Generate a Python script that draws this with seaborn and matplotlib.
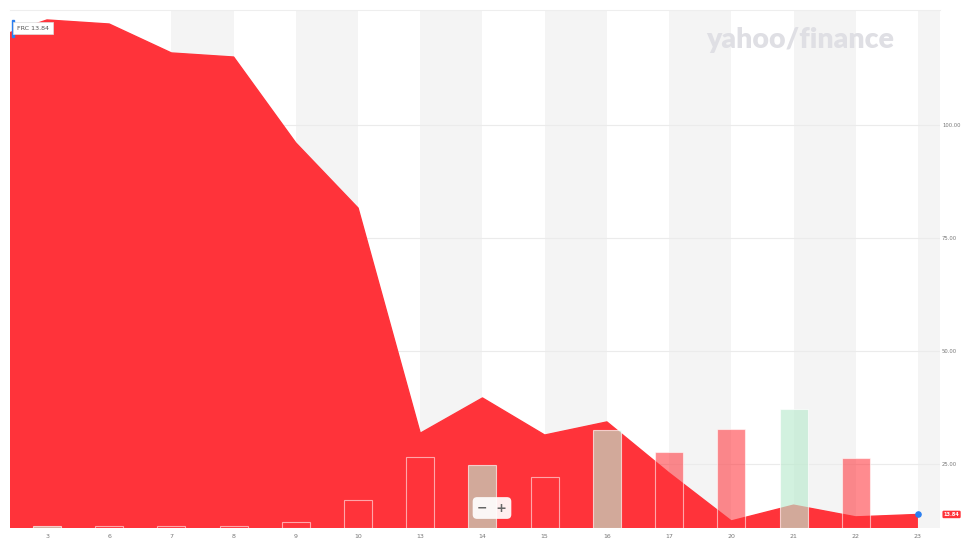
import matplotlib
matplotlib.use("Agg")
import matplotlib.pyplot as plt
from matplotlib.patches import Rectangle
import numpy as np
import pandas as pd
import seaborn as sns

# FRC daily closes, March 2023 (the first day sits just off the left edge)
days = ["2", "3", "6", "7", "8", "9", "10", "13", "14", "15", "16", "17", "20", "21", "22", "23"]
close = [118.5, 123.2, 122.3, 115.9, 115.0, 96.0, 81.6, 31.8, 39.6, 31.4, 34.3, 23.0, 12.4, 15.9, 13.3, 13.84]
volume_m = [np.nan, 3, 3, 3, 3, 9, 42, 106, 94, 76, 147, 114, 148, 178, 105, np.nan]
price_ticks = [25, 50, 75, 100]
ticker = "FRC"

RED = "#ff333a"
UP = "#bbeace"
BLUE = "#2b7ff0"

df = pd.DataFrame({"day": days, "close": close, "vol": volume_m})
df["pos"] = np.arange(len(df))
df["dir"] = np.where(df["close"].diff() >= 0, "up", "down")

sns.set_style("white")
plt.rcParams["font.family"] = ["DejaVu Sans"]

fig = plt.figure(figsize=(9.62, 5.44), dpi=100)
ax = fig.add_axes([0.0104, 0.0294, 0.9667, 0.9522])

# alternating day bands + price gridlines
for start in range(3, len(days), 2):
    ax.axvspan(start, start + 1, color="#f4f4f4", lw=0, zorder=0)
for t in price_ticks:
    ax.axhline(t, color="#ebebeb", lw=0.8, zorder=1)

# price area
sns.lineplot(data=df, x="pos", y="close", ax=ax, color=RED, lw=1, zorder=2)
ax.fill_between(df["pos"], df["close"], 0, color=RED, lw=0, zorder=2)
ax.scatter(df["pos"].iloc[-1], df["close"].iloc[-1], s=14, color=BLUE, zorder=6)

# volume bars on a hidden twin axis
ax2 = ax.twinx()
sns.barplot(
    data=df, x="day", y="vol", hue="dir", order=days, hue_order=["down", "up"],
    palette={"down": RED, "up": UP}, dodge=False, width=0.45, saturation=1,
    edgecolor="white", linewidth=0.8, errorbar=None, legend=False, ax=ax2,
)
for cont, a in zip(ax2.containers, [0.57, 0.65]):
    for p in cont:
        p.set_alpha(a)
ax2.set_ylim(0, 777)
ax2.set_yticks([])
ax2.set_ylabel("")
for s in ax2.spines.values():
    s.set_visible(False)

ax.set_xlim(0.405, 15.354)
ax.set_ylim(10.84, 125.4)
ax.set_xticks(df["pos"].iloc[1:], days[1:])
ax.yaxis.tick_right()
ax.set_yticks(price_ticks, [f"{t:.2f}" for t in price_ticks])
ax.tick_params(axis="both", length=0, labelcolor="#777")
ax.tick_params(axis="x", pad=4, labelsize=4.5)
ax.tick_params(axis="y", pad=1.5, labelsize=3.8)
ax.set_xlabel("")
ax.set_ylabel("")
for name, s in ax.spines.items():
    s.set_visible(name == "top")
ax.spines["top"].set_color("#eeeeee")
ax.spines["top"].set_linewidth(0.8)

# last price tag on the right
last = df["close"].iloc[-1]
ax.text(1.004, last, f"{last:.2f}", transform=ax.get_yaxis_transform(), ha="left", va="center",
        fontsize=3.6, color="white", fontweight="bold",
        bbox=dict(boxstyle="round,pad=0.25", fc=RED, ec="none"))

# ticker badge top-left
fig.text(17 / 962, 1 - 28 / 544, f"{ticker} {last:.2f}", ha="left", va="center", fontsize=4.6,
         color="#555", bbox=dict(boxstyle="square,pad=0.55", fc="white", ec="#dddddd", lw=0.5))
fig.patches.append(Rectangle((12 / 962, 1 - 37 / 544), 2 / 962, 17 / 544,
                             transform=fig.transFigure, color=BLUE))

# zoom control
fig.text(492 / 962, 1 - 508 / 544, "−  +", ha="center", va="center", fontsize=9, color="#666",
         fontweight="bold", bbox=dict(boxstyle="round,pad=0.35", fc="white", ec="none", alpha=0.92))

# watermark
fig.text(800 / 962, 1 - 40 / 544, "yahoo/finance", ha="center", va="center", fontsize=20.5,
         family=["Lato", "DejaVu Sans"], fontweight="heavy", color="#dfdfe4")

fig.savefig("out.png", dpi=100)
